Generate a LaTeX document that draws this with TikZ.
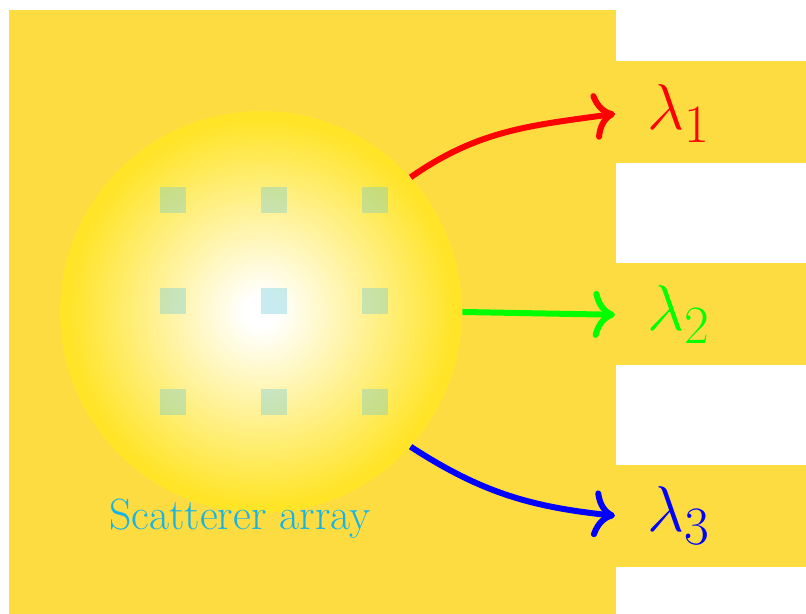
\documentclass[tikz,border=0pt]{standalone}
\usepackage{amsmath}
\usepackage{graphicx}
\usetikzlibrary{
	arrows.meta,
	positioning
}
\definecolor{bgyellow}{RGB}{253,220,66}
\definecolor{glowedge}{RGB}{255,228,40}
\definecolor{dotcyan}{RGB}{100,200,220}
\definecolor{labelcyan}{RGB}{20,180,230}
\pgfdeclareradialshading{glow}{\pgfpoint{0bp}{0bp}}{color(0bp)=(white); color(2bp)=(white); color(24bp)=(glowedge); color(50bp)=(glowedge)}
\newcommand{\biglam}[1]{\scalebox{1.48}{$\lambda_{#1}$}}

\begin{document}
\begin{tikzpicture}[
		x=0.02cm, y=0.02cm,
		panel/.style={fill=bgyellow, draw=none},
		scat/.style={rectangle, fill=dotcyan, opacity=0.35, minimum size=0.52cm, inner sep=0pt},
		lam/.style={anchor=base west, inner xsep=0.64cm, inner ysep=0pt, font=\Huge},
		ray/.style={line width=0.12cm, -{Computer Modern Rightarrow[length=4.4mm, width=9.4mm]}}
		]
		\useasboundingbox (0,0) rectangle (806,614);
		
		% Panels
		\fill[panel] (9,0) rectangle (616,604);
		\foreach \y in {47,249,451}
			\fill[panel] (616,\y) rectangle (806,\y+102);
		
		% Scatterer array
		\node[circle, minimum size=8.04cm, inner sep=0pt, shading=glow] (array) at (261,302) {};
		\foreach \i/\x in {1/173,2/274,3/375}
			\foreach \j/\y in {1/414,2/313,3/212}
				\node[scat] (s\i\j) at (\x,\y) {};
		\node[text=labelcyan, font=\huge, anchor=base] (label) at (240,84) {\scalebox{1.2}{Scatterer array}};
		
		% Wavelengths
		\node[lam, text=red] (lam1) at (615,484) {\biglam{1}};
		\node[lam, text=green] (lam2) at (615,283) {\biglam{2}};
		\node[lam, text=blue] (lam3) at (615,82) {\biglam{3}};
		
		% Arrows
		\draw[ray, red] (array.42) to[out=35, in=188] (lam1.west);
		\draw[ray, green] (array.east) -- (lam2.west);
		\draw[ray, blue] (array.-42) to[out=-33, in=174] (lam3.west);
		
	\end{tikzpicture}
\end{document}
